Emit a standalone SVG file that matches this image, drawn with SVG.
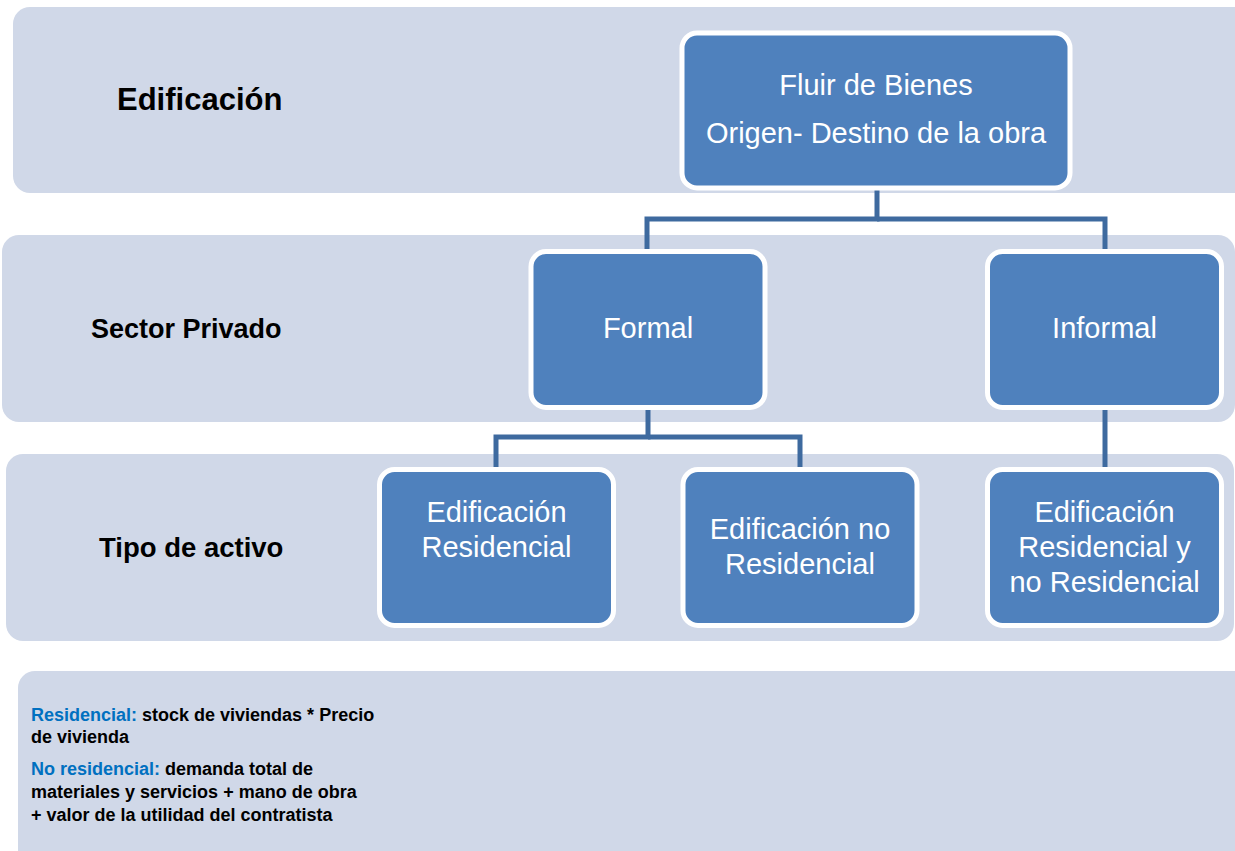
<svg xmlns="http://www.w3.org/2000/svg" width="1235" height="851" viewBox="0 0 1235 851">
<style>
.band{fill:#D0D8E8;}
.node{fill:#4F81BD;stroke:#FFFFFF;stroke-width:5;}
.nt{font-family:"Liberation Sans",Arial,sans-serif;font-size:29px;fill:#FFFFFF;text-anchor:middle;}
.lbl{font-family:"Liberation Sans",Arial,sans-serif;font-weight:bold;fill:#000000;}
.note{font-family:"Liberation Sans",Arial,sans-serif;font-weight:bold;font-size:18px;fill:#000000;}
.key{fill:#0070C0;}
.conn{fill:none;stroke:#3E6A9F;stroke-width:5;}
</style>
<rect width="1235" height="851" fill="#FFFFFF"/>
<g id="bands">
<rect class="band" x="13" y="7" width="1260" height="186" rx="17"/>
<rect class="band" x="2" y="235" width="1233" height="187" rx="17"/>
<rect class="band" x="6" y="454" width="1228" height="187" rx="17"/>
<rect class="band" x="18" y="671" width="1260" height="220" rx="17"/>
</g>
<g id="labels">
<text class="lbl" x="117" y="110" font-size="31">Edificación</text>
<text class="lbl" x="91" y="338" font-size="27">Sector Privado</text>
<text class="lbl" x="99" y="557" font-size="27.5">Tipo de activo</text>
</g>
<g id="connectors">
<polyline class="conn" points="877,190 877,219 647,219 647,250"/>
<polyline class="conn" points="877,219 1105,219 1105,250"/>
<polyline class="conn" points="648,409 648,437 496,437 496,468"/>
<polyline class="conn" points="648,437 800,437 800,468"/>
<line class="conn" x1="1105" y1="409" x2="1105" y2="468"/>
</g>
<g id="node-fluir">
<rect class="node" x="682" y="33" width="388" height="155" rx="15"/>
<text class="nt" x="876" y="95">Fluir de Bienes</text>
<text class="nt" x="876" y="143">Origen- Destino de la obra</text>
</g>
<g id="node-formal">
<rect class="node" x="531" y="251.5" width="234" height="156" rx="15"/>
<text class="nt" x="648" y="338">Formal</text>
</g>
<g id="node-informal">
<rect class="node" x="987.5" y="251.5" width="234" height="156" rx="15"/>
<text class="nt" x="1104.5" y="338">Informal</text>
</g>
<g id="node-residencial">
<rect class="node" x="379.5" y="469.5" width="234" height="156" rx="15"/>
<text class="nt" x="496.5" y="522">Edificación</text>
<text class="nt" x="496.5" y="557">Residencial</text>
</g>
<g id="node-noresidencial">
<rect class="node" x="683" y="469.5" width="234" height="156" rx="15"/>
<text class="nt" x="800" y="539">Edificación no</text>
<text class="nt" x="800" y="574">Residencial</text>
</g>
<g id="node-resynores">
<rect class="node" x="987.5" y="469.5" width="234" height="156" rx="15"/>
<text class="nt" x="1104.5" y="522">Edificación</text>
<text class="nt" x="1104.5" y="557">Residencial y</text>
<text class="nt" x="1104.5" y="592">no Residencial</text>
</g>
<g id="note">
<text class="note" x="31" y="721"><tspan class="key">Residencial:</tspan> stock de viviendas * Precio</text>
<text class="note" x="31" y="743">de vivienda</text>
<text class="note" x="31" y="775"><tspan class="key">No residencial:</tspan> demanda total de</text>
<text class="note" x="31" y="798">materiales y servicios + mano de obra</text>
<text class="note" x="31" y="821">+ valor de la utilidad del contratista</text>
</g>
</svg>
